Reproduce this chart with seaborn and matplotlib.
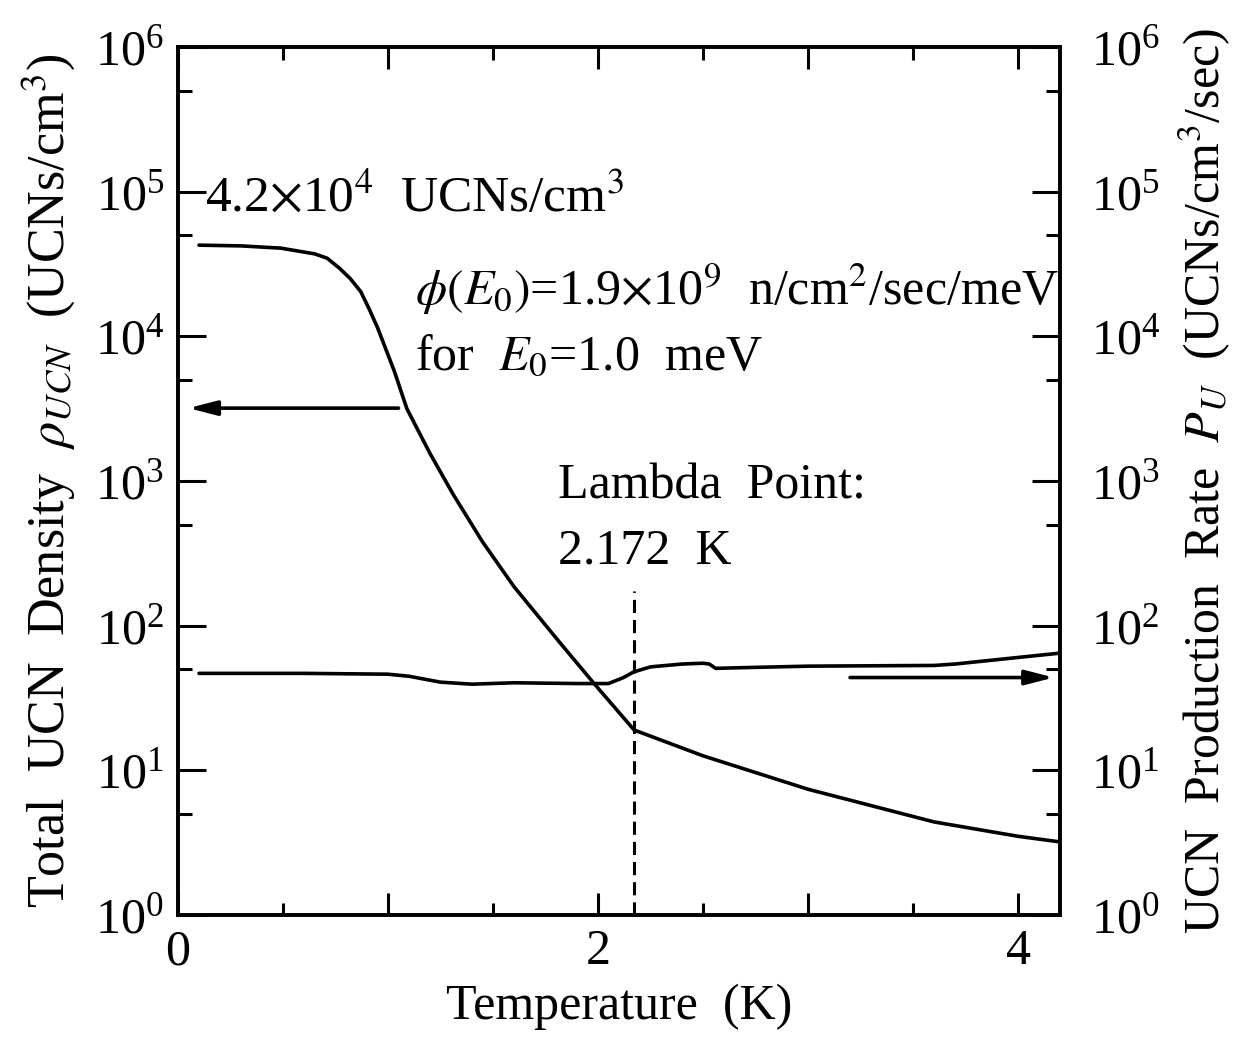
import numpy as np
import matplotlib
matplotlib.use("Agg")
import matplotlib.pyplot as plt
import seaborn as sns
from matplotlib.ticker import (FixedLocator, MultipleLocator, FuncFormatter,
                               NullFormatter, LogFormatterMathtext)

# total UCN density vs temperature
temp_rho = [0.10, 0.30, 0.49, 0.57, 0.65, 0.71, 0.77, 0.82, 0.87, 0.91, 0.95, 1.03,
            1.09, 1.20, 1.31, 1.45, 1.60, 1.81, 1.98, 2.172, 2.50, 3.00, 3.60, 4.00, 4.20]
rho_ucn = [42700, 42200, 40700, 38900, 37200, 34700, 29500, 25100, 20400, 15500, 11500, 5750,
           3160, 1550, 810, 380, 186, 79, 40, 19, 12.6, 7.4, 4.4, 3.5, 3.2]

# UCN production rate vs temperature
temp_pu = [0.10, 0.60, 1.00, 1.10, 1.25, 1.40, 1.60, 1.90, 2.05, 2.12, 2.17,
           2.25, 2.40, 2.50, 2.53, 2.56, 2.70, 3.00, 3.60, 3.70, 4.00, 4.20]
prod_rate = [46.8, 46.8, 46.2, 44.7, 40.7, 39.4, 40.3, 39.8, 39.8, 43.7, 47.9,
             51.9, 54.3, 55.0, 54.3, 50.7, 51.3, 52.5, 53.1, 54.3, 60.3, 64.6]

y_major = [1, 1e1, 1e2, 1e3, 1e4, 1e5, 1e6]
y_minor = [5, 5e1, 5e2, 5e3, 5e4, 5e5]

lambda_T = 2.172
lambda_top = 174
left_arrow = (1.05, 0.05, 3190)   # x start, x end, y
right_arrow = (3.2, 4.17, 43.8)

sns.set_theme(style="ticks")
plt.rcParams["font.family"] = ["Liberation Serif", "DejaVu Serif"]
plt.rcParams["mathtext.fontset"] = "stix"
for key in ("text.color", "axes.labelcolor", "xtick.color", "ytick.color", "axes.edgecolor"):
    plt.rcParams[key] = "black"

fs = 36
lw = 2.6

fig = plt.figure(figsize=(12.49, 10.38), dpi=100)
ax = fig.add_axes([0.1425, 0.1185, 0.7062, 0.8362])
ax2 = ax.twinx()

sns.lineplot(x=temp_rho, y=rho_ucn, ax=ax, color="black", lw=lw)
sns.lineplot(x=temp_pu, y=prod_rate, ax=ax2, color="black", lw=lw)

ax.vlines(lambda_T, 1, lambda_top, colors="black", lw=2.2, linestyles=(0, (4.3, 2.3)))

for a in (ax, ax2):
    a.set_yscale("log")
    a.set_ylim(1, 1e6)
    a.yaxis.set_major_locator(FixedLocator(y_major))
    a.yaxis.set_major_formatter(LogFormatterMathtext())
    a.yaxis.set_minor_locator(FixedLocator(y_minor))
    a.yaxis.set_minor_formatter(NullFormatter())
    for s in a.spines.values():
        s.set_linewidth(lw)
        s.set_color("black")
ax.set_xlim(0, 4.2)
ax.xaxis.set_major_locator(MultipleLocator(1))
ax.xaxis.set_minor_locator(MultipleLocator(0.5))
ax.xaxis.set_major_formatter(FuncFormatter(lambda v, p: f"{v:.0f}" if round(v) % 2 == 0 else ""))

ax.tick_params(axis="x", which="both", direction="in", top=True, width=2.2, labelsize=fs, pad=10)
ax.tick_params(axis="x", which="major", length=16)
ax.tick_params(axis="x", which="minor", length=9)
ax.tick_params(axis="y", which="both", direction="in", right=False, width=2.2, labelsize=fs, pad=10)
ax.tick_params(axis="y", which="major", length=20)
ax.tick_params(axis="y", which="minor", length=10)
ax2.tick_params(axis="y", which="both", direction="in", width=2.2, labelsize=fs, pad=22)
ax2.tick_params(axis="y", which="major", length=20)
ax2.tick_params(axis="y", which="minor", length=10)

ax.set_xlabel("Temperature  (K)", fontsize=fs, labelpad=6)
ax.set_ylabel(r"Total  UCN  Density  $\rho_{UCN}$  (UCNs/cm$^3$)", fontsize=37.5, labelpad=12)
ax2.set_ylabel(r"UCN  Production  Rate  $P_U$  (UCNs/cm$^3$/sec)", fontsize=fs, labelpad=12)

ax.text(0.13, 10**4.86, r"4.2$\times$10$^4$  UCNs/cm$^3$", fontsize=37, va="baseline")
ax.text(1.13, 10**4.22, r"$\phi(E_0)$=1.9$\times$10$^9$  n/cm$^2$/sec/meV", fontsize=fs, va="baseline")
ax.text(1.13, 10**3.77, r"for  $E_0$=1.0  meV", fontsize=fs, va="baseline")
ax.text(1.81, 10**2.88, "Lambda  Point:", fontsize=fs, va="baseline")
ax.text(1.81, 10**2.43, "2.172  K", fontsize=fs, va="baseline")

arrow_props = dict(arrowstyle="-|>,head_length=0.85,head_width=0.22", color="black",
                   lw=lw, mutation_scale=20, shrinkA=0, shrinkB=0)
ax.annotate("", xy=(left_arrow[1], left_arrow[2]), xytext=(left_arrow[0], left_arrow[2]),
            arrowprops=arrow_props)
ax.annotate("", xy=(right_arrow[1], right_arrow[2]), xytext=(right_arrow[0], right_arrow[2]),
            arrowprops=arrow_props)

fig.savefig("out.png", dpi=100)
